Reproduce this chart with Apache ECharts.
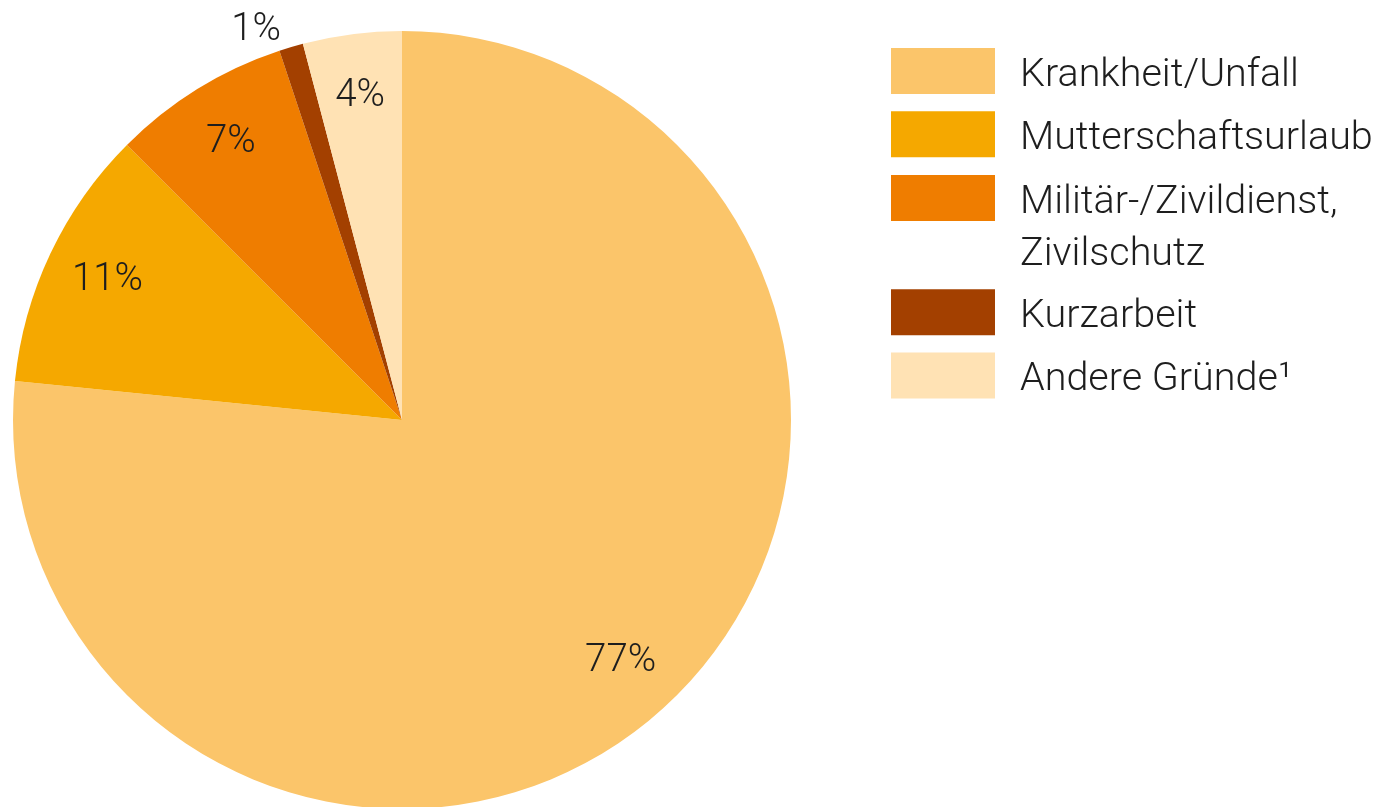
<!DOCTYPE html>
<html>
<head>
<meta charset="utf-8">
<script src="https://cdn.jsdelivr.net/npm/echarts@6/dist/echarts.min.js"></script>
<style>
html,body{margin:0;padding:0;background:#fff;}
#chart{width:1378px;height:807px;}
</style>
</head>
<body>
<div id="chart"></div>
<script>
const categories = ['Krankheit/Unfall', 'Mutterschaftsurlaub', 'Militär-/Zivildienst, Zivilschutz', 'Kurzarbeit', 'Andere Gründe¹'];
const shares = [76.6, 10.9, 7.4, 1.0, 4.1];
const colors = ['#FBC56A', '#F5A800', '#EF7D00', '#A34000', '#FFE2B4'];

const FONT = 'Roboto';
const TEXT = '#1e1e1e';
const CX = 402, CY = 420, R = 389;

const mainData = categories.map((c, i) => ({ name: c, value: shares[i], itemStyle: { color: colors[i] } }));
const labelData = categories.map((c, i) => {
  const d = { name: c, value: shares[i] };
  if (i === 3) {
    d.label = { position: 'outside' };
    d.labelLine = { show: false, length: 18, length2: 0 };
  }
  return d;
});

const tok = { fontFamily: FONT, fontWeight: 300, fontSize: 39.5, color: TEXT, lineHeight: 46 };
const legendText = Object.assign({}, tok, { padding: [10, 0, 0, 20], rich: { t: tok } });
const legendBase = {
  orient: 'vertical', left: 891, padding: 0, itemWidth: 104, itemHeight: 46, itemGap: 7.3,
  icon: 'rect', selectedMode: false, textStyle: legendText,
  formatter: n => '{t|' + n + '}'
};
const tok2 = Object.assign({}, tok, { lineHeight: 52 });

const chart = echarts.init(document.getElementById('chart'), null, { renderer: 'canvas' });
chart.setOption({
  animation: false,
  backgroundColor: '#fff',
  legend: [
    Object.assign({}, legendBase, { top: 43, data: [categories[0], categories[1]] }),
    Object.assign({}, legendBase, {
      top: 115, data: [categories[2]],
      formatter: n => '{t|}\n' + n.split(', ').map((s, k, a) => '{t|' + s + (k < a.length - 1 ? ',' : '') + '}').join('\n'),
      textStyle: Object.assign({}, tok2, { padding: [10, 0, 0, 20], rich: { t: tok2 } })
    }),
    Object.assign({}, legendBase, { top: 284.3, data: [categories[3], categories[4]] })
  ],
  series: [
    {
      type: 'pie', center: [CX, CY], radius: [0, R], startAngle: 90, clockwise: true,
      data: mainData, label: { show: false }, labelLine: { show: false },
      itemStyle: { borderWidth: 0 }, emphasis: { disabled: true }, silent: true
    },
    {
      type: 'pie', center: [CX, CY], radius: [257, R], startAngle: 90, clockwise: true,
      data: labelData, avoidLabelOverlap: false,
      itemStyle: { color: 'rgba(0,0,0,0)', borderWidth: 0 },
      label: {
        show: true, position: 'inside', formatter: p => Math.round(p.value) + '%',
        fontFamily: FONT, fontWeight: 300, fontSize: 38.5, color: TEXT
      },
      labelLine: { show: false },
      emphasis: { disabled: true }, silent: true
    }
  ]
});
</script>
</body>
</html>
